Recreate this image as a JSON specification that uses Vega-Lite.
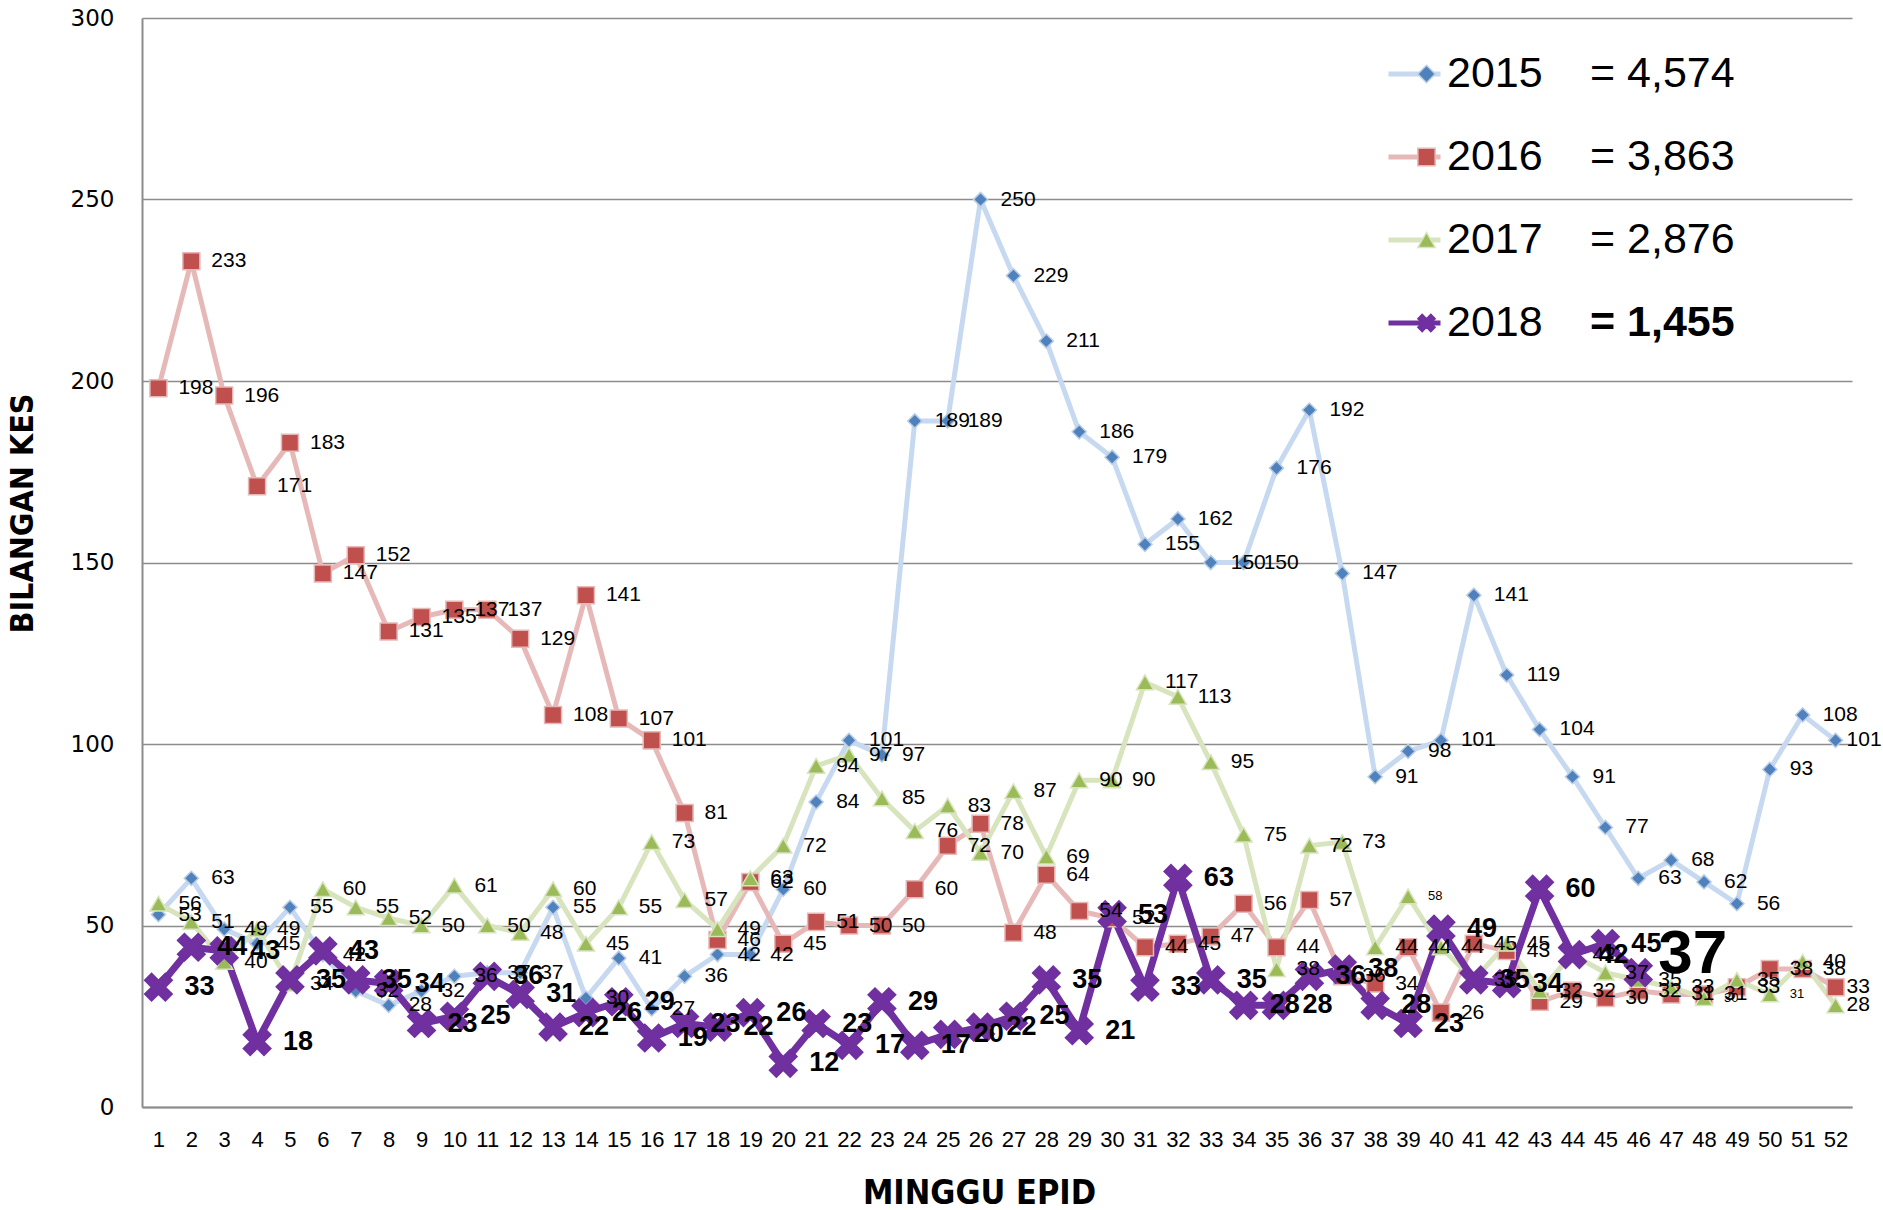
{
"$schema": "https://vega.github.io/schema/vega-lite/v6.json",
"width": 1710, "height": 1089,
"autosize": "none",
"padding": {"left": 142, "top": 18, "right": 31, "bottom": 103},
"background": "white",
"config": {"view": {"stroke": null}, "font": "Liberation Sans"},
"data": {"values": [
{"week":1,"year":"2015","value":53},{"week":2,"year":"2015","value":63},{"week":3,"year":"2015","value":49},{"week":4,"year":"2015","value":45},{"week":5,"year":"2015","value":55},{"week":6,"year":"2015","value":42},{"week":7,"year":"2015","value":32},{"week":8,"year":"2015","value":28},{"week":9,"year":"2015","value":32},{"week":10,"year":"2015","value":36},
{"week":11,"year":"2015","value":37},{"week":12,"year":"2015","value":37},{"week":13,"year":"2015","value":55},{"week":14,"year":"2015","value":30},{"week":15,"year":"2015","value":41},{"week":16,"year":"2015","value":27},{"week":17,"year":"2015","value":36},{"week":18,"year":"2015","value":42},{"week":19,"year":"2015","value":42},{"week":20,"year":"2015","value":60},
{"week":21,"year":"2015","value":84},{"week":22,"year":"2015","value":101},{"week":23,"year":"2015","value":97},{"week":24,"year":"2015","value":189},{"week":25,"year":"2015","value":189},{"week":26,"year":"2015","value":250},{"week":27,"year":"2015","value":229},{"week":28,"year":"2015","value":211},{"week":29,"year":"2015","value":186},{"week":30,"year":"2015","value":179},
{"week":31,"year":"2015","value":155},{"week":32,"year":"2015","value":162},{"week":33,"year":"2015","value":150},{"week":34,"year":"2015","value":150},{"week":35,"year":"2015","value":176},{"week":36,"year":"2015","value":192},{"week":37,"year":"2015","value":147},{"week":38,"year":"2015","value":91},{"week":39,"year":"2015","value":98},{"week":40,"year":"2015","value":101},
{"week":41,"year":"2015","value":141},{"week":42,"year":"2015","value":119},{"week":43,"year":"2015","value":104},{"week":44,"year":"2015","value":91},{"week":45,"year":"2015","value":77},{"week":46,"year":"2015","value":63},{"week":47,"year":"2015","value":68},{"week":48,"year":"2015","value":62},{"week":49,"year":"2015","value":56},{"week":50,"year":"2015","value":93},
{"week":51,"year":"2015","value":108},{"week":52,"year":"2015","value":101},
{"week":1,"year":"2016","value":198},{"week":2,"year":"2016","value":233},{"week":3,"year":"2016","value":196},{"week":4,"year":"2016","value":171},{"week":5,"year":"2016","value":183},{"week":6,"year":"2016","value":147},{"week":7,"year":"2016","value":152},{"week":8,"year":"2016","value":131},{"week":9,"year":"2016","value":135},{"week":10,"year":"2016","value":137},
{"week":11,"year":"2016","value":137},{"week":12,"year":"2016","value":129},{"week":13,"year":"2016","value":108},{"week":14,"year":"2016","value":141},{"week":15,"year":"2016","value":107},{"week":16,"year":"2016","value":101},{"week":17,"year":"2016","value":81},{"week":18,"year":"2016","value":46},{"week":19,"year":"2016","value":62},{"week":20,"year":"2016","value":45},
{"week":21,"year":"2016","value":51},{"week":22,"year":"2016","value":50},{"week":23,"year":"2016","value":50},{"week":24,"year":"2016","value":60},{"week":25,"year":"2016","value":72},{"week":26,"year":"2016","value":78},{"week":27,"year":"2016","value":48},{"week":28,"year":"2016","value":64},{"week":29,"year":"2016","value":54},{"week":30,"year":"2016","value":52},
{"week":31,"year":"2016","value":44},{"week":32,"year":"2016","value":45},{"week":33,"year":"2016","value":47},{"week":34,"year":"2016","value":56},{"week":35,"year":"2016","value":44},{"week":36,"year":"2016","value":57},{"week":37,"year":"2016","value":36},{"week":38,"year":"2016","value":34},{"week":39,"year":"2016","value":44},{"week":40,"year":"2016","value":26},
{"week":41,"year":"2016","value":45},{"week":42,"year":"2016","value":43},{"week":43,"year":"2016","value":29},{"week":44,"year":"2016","value":32},{"week":45,"year":"2016","value":30},{"week":46,"year":"2016","value":32},{"week":47,"year":"2016","value":31},{"week":48,"year":"2016","value":31},{"week":49,"year":"2016","value":33},{"week":50,"year":"2016","value":38},
{"week":51,"year":"2016","value":38},{"week":52,"year":"2016","value":33},
{"week":1,"year":"2017","value":56},{"week":2,"year":"2017","value":51},{"week":3,"year":"2017","value":40},{"week":4,"year":"2017","value":49},{"week":5,"year":"2017","value":34},{"week":6,"year":"2017","value":60},{"week":7,"year":"2017","value":55},{"week":8,"year":"2017","value":52},{"week":9,"year":"2017","value":50},{"week":10,"year":"2017","value":61},
{"week":11,"year":"2017","value":50},{"week":12,"year":"2017","value":48},{"week":13,"year":"2017","value":60},{"week":14,"year":"2017","value":45},{"week":15,"year":"2017","value":55},{"week":16,"year":"2017","value":73},{"week":17,"year":"2017","value":57},{"week":18,"year":"2017","value":49},{"week":19,"year":"2017","value":63},{"week":20,"year":"2017","value":72},
{"week":21,"year":"2017","value":94},{"week":22,"year":"2017","value":97},{"week":23,"year":"2017","value":85},{"week":24,"year":"2017","value":76},{"week":25,"year":"2017","value":83},{"week":26,"year":"2017","value":70},{"week":27,"year":"2017","value":87},{"week":28,"year":"2017","value":69},{"week":29,"year":"2017","value":90},{"week":30,"year":"2017","value":90},
{"week":31,"year":"2017","value":117},{"week":32,"year":"2017","value":113},{"week":33,"year":"2017","value":95},{"week":34,"year":"2017","value":75},{"week":35,"year":"2017","value":38},{"week":36,"year":"2017","value":72},{"week":37,"year":"2017","value":73},{"week":38,"year":"2017","value":44},{"week":39,"year":"2017","value":58},{"week":40,"year":"2017","value":44},
{"week":41,"year":"2017","value":35},{"week":42,"year":"2017","value":45},{"week":43,"year":"2017","value":32},{"week":44,"year":"2017","value":42},{"week":45,"year":"2017","value":37},{"week":46,"year":"2017","value":35},{"week":47,"year":"2017","value":33},{"week":48,"year":"2017","value":30},{"week":49,"year":"2017","value":35},{"week":50,"year":"2017","value":31},
{"week":51,"year":"2017","value":40},{"week":52,"year":"2017","value":28},
{"week":1,"year":"2018","value":33},{"week":2,"year":"2018","value":44},{"week":3,"year":"2018","value":43},{"week":4,"year":"2018","value":18},{"week":5,"year":"2018","value":35},{"week":6,"year":"2018","value":43},{"week":7,"year":"2018","value":35},{"week":8,"year":"2018","value":34},{"week":9,"year":"2018","value":23},{"week":10,"year":"2018","value":25},
{"week":11,"year":"2018","value":36},{"week":12,"year":"2018","value":31},{"week":13,"year":"2018","value":22},{"week":14,"year":"2018","value":26},{"week":15,"year":"2018","value":29},{"week":16,"year":"2018","value":19},{"week":17,"year":"2018","value":23},{"week":18,"year":"2018","value":22},{"week":19,"year":"2018","value":26},{"week":20,"year":"2018","value":12},
{"week":21,"year":"2018","value":23},{"week":22,"year":"2018","value":17},{"week":23,"year":"2018","value":29},{"week":24,"year":"2018","value":17},{"week":25,"year":"2018","value":20},{"week":26,"year":"2018","value":22},{"week":27,"year":"2018","value":25},{"week":28,"year":"2018","value":35},{"week":29,"year":"2018","value":21},{"week":30,"year":"2018","value":53},
{"week":31,"year":"2018","value":33},{"week":32,"year":"2018","value":63},{"week":33,"year":"2018","value":35},{"week":34,"year":"2018","value":28},{"week":35,"year":"2018","value":28},{"week":36,"year":"2018","value":36},{"week":37,"year":"2018","value":38},{"week":38,"year":"2018","value":28},{"week":39,"year":"2018","value":23},{"week":40,"year":"2018","value":49},
{"week":41,"year":"2018","value":35},{"week":42,"year":"2018","value":34},{"week":43,"year":"2018","value":60},{"week":44,"year":"2018","value":42},{"week":45,"year":"2018","value":45},{"week":46,"year":"2018","value":37}
]},
"transform": [{"calculate": "datum.year", "as": "yr"}],
"encoding": {
  "x": {"field": "week", "type": "ordinal", "scale": {"type": "point", "padding": 0.5},
    "axis": {"title": "MINGGU EPID", "titleFont": "Liberation Sans Narrow, DejaVu Sans Condensed, sans-serif", "titleFontSize": 34, "titleFontWeight": "bold", "titleColor": "black", "titleX": 837, "titleY": 96, "titleBaseline": "alphabetic", "labelAngle": 0, "labelFont": "Liberation Sans", "labelFontSize": 22, "labelColor": "black", "labelPadding": 22, "ticks": false, "domainColor": "#8C8C8C", "domainWidth": 2, "grid": false}},
  "y": {"field": "value", "type": "quantitative", "scale": {"domain": [0, 300], "nice": false},
    "axis": {"title": "BILANGAN KES", "titleFont": "Liberation Sans Narrow, DejaVu Sans Condensed, sans-serif", "titleFontSize": 32, "titleFontWeight": "bold", "titleColor": "black", "titleX": -120, "titleY": 495, "titleAlign": "center", "titleBaseline": "middle", "values": [0, 50, 100, 150, 200, 250, 300], "labelFont": "DejaVu Sans", "labelFontSize": 23, "labelColor": "black", "labelPadding": 28, "ticks": false, "domainColor": "#8C8C8C", "domainWidth": 2, "gridColor": "#8C8C8C", "gridWidth": 1.5}}
},
"layer": [
  {"transform": [{"filter": "datum.year != '2018'"}],
   "mark": {"type": "line", "strokeJoin": "round", "strokeCap": "round", "strokeWidth": 5},
   "encoding": {
     "color": {"field": "year", "type": "nominal", "scale": {"range": ["#C6D9F1", "#E6B9B8", "#D7E4BD", "#7030A0"]},
       "legend": {"orient": "none", "legendX": 1244, "legendY": 26, "title": null, "symbolType": "stroke", "symbolSize": 2704, "symbolStrokeWidth": 5, "labelFontSize": 43, "labelFont": "Liberation Sans", "labelColor": "black", "labelOffset": 4, "clipHeight": 60, "rowPadding": 23, "padding": 0, "labelLimit": 300}}
   }},
  {"transform": [{"filter": "datum.year == '2018'"}],
   "mark": {"type": "line", "strokeJoin": "round", "strokeCap": "round", "strokeWidth": 7},
   "encoding": {
     "color": {"field": "year", "type": "nominal", "scale": {"range": ["#C6D9F1", "#E6B9B8", "#D7E4BD", "#7030A0"]},
       "legend": {"orient": "none", "legendX": 1244, "legendY": 26, "title": null, "symbolType": "stroke", "symbolSize": 2704, "symbolStrokeWidth": 5, "labelFontSize": 43, "labelFont": "Liberation Sans", "labelColor": "black", "labelOffset": 4, "clipHeight": 60, "rowPadding": 23, "padding": 0, "labelLimit": 300}}
   }},
  {"transform": [{"filter": "datum.year == '2015'"}],
   "mark": {"type": "point", "filled": true, "strokeWidth": 1.5, "opacity": 1, "size": 200},
   "encoding": {
     "fill": {"field": "yr", "type": "nominal", "scale": {"range": ["#4F81BD", "#C0504D", "#9BBB59", "#7030A0"]},
       "legend": {"orient": "none", "legendX": 1263, "legendY": 26, "title": null, "symbolSize": 300, "symbolStrokeWidth": 1.5, "labelFontSize": 43, "labelFont": "Liberation Sans", "labelColor": "black", "labelOffset": 142, "clipHeight": 60, "rowPadding": 23, "padding": 0, "labelLimit": 400,
         "labelFontWeight": {"expr": "datum.value == '2018' ? 'bold' : 'normal'"},
         "labelExpr": "datum.label == '2015' ? '= 4,574' : datum.label == '2016' ? '= 3,863' : datum.label == '2017' ? '= 2,876' : '= 1,455'"}},
     "stroke": {"field": "yr", "type": "nominal", "scale": {"range": ["#B9CDE5", "#E6B9B8", "#D7E4BD", "#7030A0"]}},
     "shape": {"field": "yr", "type": "nominal", "scale": {"range": ["diamond", "square", "triangle-up", "M-1,-0.5L-0.5,-1L0,-0.5L0.5,-1L1,-0.5L0.5,0L1,0.5L0.5,1L0,0.5L-0.5,1L-1,0.5L-0.5,0Z"]}}
   }},
  {"transform": [{"filter": "datum.year == '2016' || datum.year == '2017'"}],
   "mark": {"type": "point", "filled": true, "strokeWidth": 1.5, "opacity": 1, "size": 290},
   "encoding": {
     "fill": {"field": "yr", "type": "nominal"},
     "stroke": {"field": "yr", "type": "nominal"},
     "shape": {"field": "yr", "type": "nominal"}
   }},
  {"transform": [{"filter": "datum.year == '2018'"}],
   "mark": {"type": "point", "filled": true, "strokeWidth": 1.5, "opacity": 1, "size": 760},
   "encoding": {
     "fill": {"field": "yr", "type": "nominal"},
     "stroke": {"field": "yr", "type": "nominal"},
     "shape": {"field": "yr", "type": "nominal"}
   }},
  {"transform": [{"filter": "datum.year != '2018' && datum.week != 52"}],
   "mark": {"type": "text", "align": "left", "baseline": "middle", "dx": 20, "font": "Liberation Sans", "color": "black"},
   "encoding": {
     "text": {"field": "value", "type": "quantitative"},
     "size": {"condition": {"test": "datum.year == '2017' && (datum.week == 39 || datum.week == 48 || datum.week == 50)", "value": 13}, "value": 21}
   }},
  {"transform": [{"filter": "datum.week == 52"}],
   "mark": {"type": "text", "align": "left", "baseline": "middle", "dx": 11, "font": "Liberation Sans", "fontSize": 21, "color": "black"},
   "encoding": {"text": {"field": "value", "type": "quantitative"}}},
  {"transform": [{"filter": "datum.year == '2018' && datum.week != 46"}],
   "mark": {"type": "text", "align": "left", "baseline": "middle", "dx": 26, "font": "Liberation Sans", "fontWeight": "bold", "fontSize": 27, "color": "black"},
   "encoding": {"text": {"field": "value", "type": "quantitative"}}},
  {"transform": [{"filter": "datum.year == '2018' && datum.week == 46"}],
   "mark": {"type": "text", "align": "left", "baseline": "middle", "dx": 20, "dy": -19, "font": "Liberation Sans", "fontWeight": "bold", "fontSize": 62, "color": "black"},
   "encoding": {"text": {"field": "value", "type": "quantitative"}}}
]
}
